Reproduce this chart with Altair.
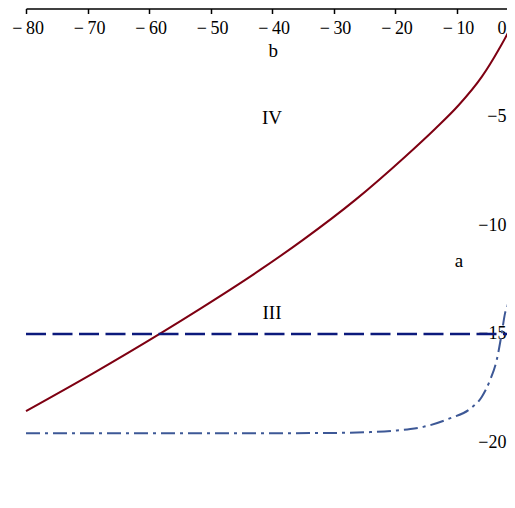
import altair as alt
import pandas as pd

# ---- data ----
red_x = [-80, -69.1, -58.2, -51.7, -42.0, -34.9, -26.5, -18.4, -13.5, -9.7, -5.9, -3.2, -1.3, 0]
red_y = [-18.55, -16.81, -14.98, -13.84, -12.06, -10.65, -8.83, -6.84, -5.55, -4.47, -3.15, -1.92, -0.92, 0]

dash_x = [-80, 0]
dash_y = [-15, -15]

dd_x = [-80, -40, -30, -24, -20, -17.5, -15.4, -11.1, -7.8, -5.9, -4.55, -3.46, -2.65, -2.11, -1.67, -1.2, -0.85, -0.75]
dd_y = [-19.57, -19.57, -19.56, -19.52, -19.45, -19.38, -19.28, -18.89, -18.45, -17.9, -17.13, -16.2, -14.98, -14.05, -13.67, -12.4, -11.2, -9.6]

lab_text = ["b", "IV", "III", "a"]
lab_x = [-39.8, -40.0, -40.0, -9.6]
lab_y = [-2.23, -5.30, -14.33, -11.91]

x_ticks = [-80, -70, -60, -50, -40, -30, -20, -10, 0]
y_ticks = [-5, -10, -15, -20]

# ---- layout ----
H = 22 * 21.7
XR = 492          # pixel position of x = 0 (just past the visible edge, as in the reference)
W = 481
FONT = "Liberation Serif"

red_df = pd.DataFrame({"x": red_x, "y": red_y})
dash_df = pd.DataFrame({"x": dash_x, "y": dash_y})
dd_df = pd.DataFrame({"x": dd_x, "y": dd_y})
lab_df = pd.DataFrame({"x": lab_x, "y": lab_y, "t": lab_text})

x_axis = alt.Axis(
    values=x_ticks, orient="bottom", offset=-H, title=None, grid=False,
    domain=True, domainColor="black", domainWidth=1.5,
    ticks=True, tickColor="black", tickWidth=1.5, tickSize=5,
    labelFont=FONT, labelFontSize=18, labelColor="black", labelPadding=6,
    labelFlush=False, labelOverlap=False,
    labelExpr="datum.value < 0 ? '\u2212\u2009' + abs(datum.value) : '0'",
    labelAlign={"condition": {"test": "datum.value == 0", "value": "right"}, "value": "center"},
    labelOffset={"condition": {"test": "datum.value == 0", "value": -12}, "value": 1.5},
)
y_axis = alt.Axis(
    values=y_ticks, orient="left", offset=-XR, title=None, grid=False,
    domain=True, domainColor="black", domainWidth=1.5,
    ticks=True, tickColor="black", tickWidth=1.5, tickSize=5,
    labelFont=FONT, labelFontSize=18, labelColor="black", labelPadding=7,
    labelFlush=False, labelOverlap=False,
    labelExpr="'\u2212' + abs(datum.value)",
)

xs = alt.Scale(domain=[-80, 0], range=[0, XR], nice=False, zero=False)
ys = alt.Scale(domain=[-22, 0], nice=False, zero=False)


def X():
    return alt.X("x:Q", scale=xs, axis=x_axis)


def Y():
    return alt.Y("y:Q", scale=ys, axis=y_axis)


red = alt.Chart(red_df).mark_line(color="#7e0012", strokeWidth=2, interpolate="monotone", clip=False).encode(
    x=X(), y=Y(), order="x:Q")
dashed = alt.Chart(dash_df).mark_line(color="#0c1a7c", strokeWidth=2.6, strokeDash=[20, 6.5], clip=False).encode(
    x=X(), y=Y())
dashdot = alt.Chart(dd_df).mark_line(color="#3d5896", strokeWidth=2, strokeDash=[14, 5, 3, 5],
                                     interpolate="monotone", clip=False).encode(x=X(), y=Y(), order="x:Q")
labels = alt.Chart(lab_df).mark_text(font=FONT, fontSize=19, color="black", align="center",
                                     baseline="alphabetic", clip=False).encode(x=X(), y=Y(), text="t:N")

chart = alt.layer(red, dashed, dashdot, labels).properties(
    width=W, height=H,
    padding={"left": 18, "top": 0.5, "right": 0, "bottom": 0},
    autosize=alt.AutoSizeParams(type="none"),
).configure_view(stroke=None)

chart.save("out.html", embed_options={"renderer": "svg", "actions": False})
